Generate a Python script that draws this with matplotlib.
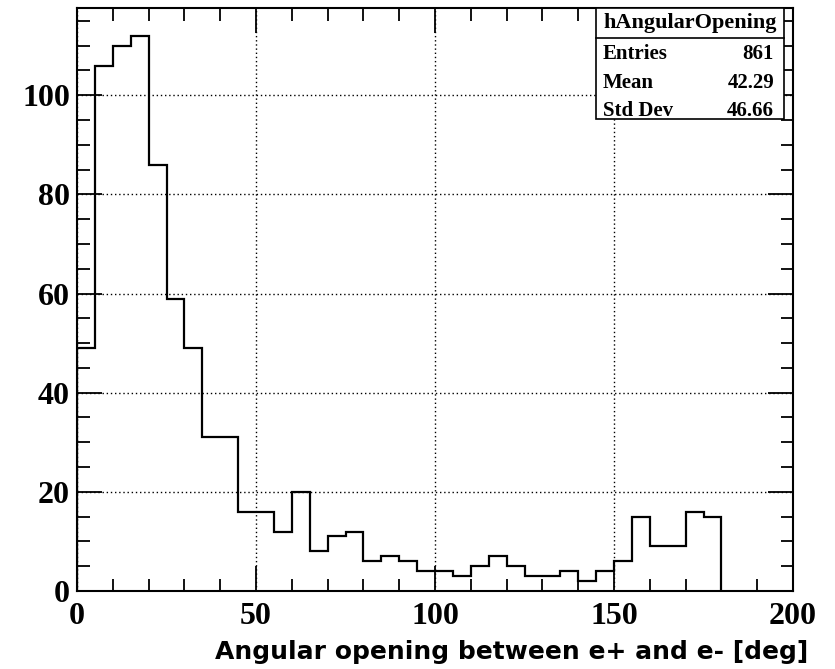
import numpy as np
import matplotlib
matplotlib.use("Agg")
import matplotlib.pyplot as plt
from matplotlib.ticker import MultipleLocator
from matplotlib.patches import Rectangle
from matplotlib.font_manager import FontProperties

# Histogram of the e+/e- opening angle, 5 degree bins from 0 to 180
bin_edges = np.arange(0, 185, 5)
counts = [49, 106, 110, 112, 86, 59, 49, 31, 31, 16,
          16, 12, 20, 8, 11, 12, 6, 7, 6, 4,
          4, 3, 5, 7, 5, 3, 3, 4, 2, 4,
          6, 15, 9, 9, 16, 15]

hist_name = "hAngularOpening"
stat_labels = ["Entries", "Mean", "Std Dev"]
stat_values = ["861", "42.29", "46.66"]
x_title = "Angular opening between e+ and e- [deg]"

W, H = 835, 669
fig = plt.figure(figsize=(W / 100, H / 100), dpi=100)
ax = fig.add_axes([77 / W, 1 - 591 / H, (793 - 77) / W, (591 - 8) / H])

ax.stairs(counts, bin_edges, baseline=0, color="black", linewidth=1.6)

ax.set_xlim(0, 200)
ax.set_ylim(0, 1.05 * max(counts))

serif = dict(family="Liberation Serif", weight="bold")
ax.xaxis.set_major_locator(MultipleLocator(50))
ax.xaxis.set_minor_locator(MultipleLocator(10))
ax.yaxis.set_major_locator(MultipleLocator(20))
ax.yaxis.set_minor_locator(MultipleLocator(5))
ax.tick_params(which="both", direction="in", top=True, right=True,
               color="black", width=1.3)
ax.tick_params(which="major", length=18)
ax.tick_params(which="minor", length=9)
ax.tick_params(axis="x", which="major", pad=8)
ax.tick_params(axis="y", which="major", pad=5)
for lab in ax.get_xticklabels() + ax.get_yticklabels():
    lab.set_fontproperties(FontProperties(size=23, **serif))
for sp in ax.spines.values():
    sp.set_linewidth(1.5)

ax.grid(True, which="major", linestyle=(0, (1, 2)), color="black", linewidth=1.0)
ax.set_axisbelow(False)

fig.text(808 / W, 1 - 659 / H, x_title, ha="right", va="baseline",
         family="DejaVu Sans", weight="bold", fontsize=18)

# Statistics box
bx0, bx1, by0, by1, byt = 596, 784, 8, 119, 38
fig.patches.append(Rectangle((bx0 / W, 1 - by1 / H), (bx1 - bx0) / W, (by1 - by0) / H,
                             transform=fig.transFigure, facecolor="white",
                             edgecolor="black", linewidth=1.2, zorder=5))
fig.add_artist(plt.Line2D([bx0 / W, bx1 / W], [1 - byt / H, 1 - byt / H],
                          transform=fig.transFigure, color="black", linewidth=1.2, zorder=6))
fig.text((bx0 + bx1) / 2 / W, 1 - 23 / H, hist_name, ha="center", va="center",
         fontsize=16, zorder=7, **serif)
for i, (lab, val) in enumerate(zip(stat_labels, stat_values)):
    y = 1 - (54 + 28.5 * i) / H
    fig.text(603 / W, y, lab, ha="left", va="center", fontsize=15, zorder=7, **serif)
    fig.text(774 / W, y, val, ha="right", va="center", fontsize=15, zorder=7, **serif)

fig.savefig("out.png", dpi=100)
